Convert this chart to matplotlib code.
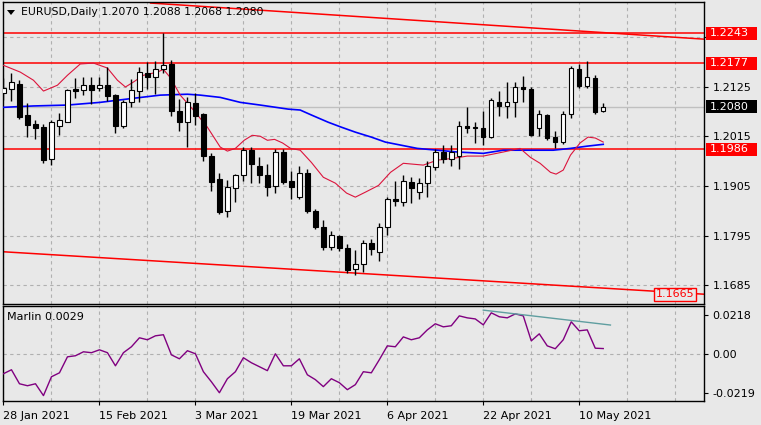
import matplotlib
matplotlib.use('Agg')
import matplotlib.pyplot as plt
import matplotlib.transforms as mtransforms
from matplotlib.patches import Rectangle, Polygon

# candles, one per trading day starting 28 Jan 2021 (index 0)
opens = [1.2110, 1.2120, 1.2130, 1.2062, 1.2042, 1.2035, 1.1964, 1.2037, 1.2047, 1.2119,
         1.2117, 1.2128, 1.2121, 1.2128, 1.2106, 1.2037, 1.2090, 1.2115, 1.2155, 1.2147,
         1.2163, 1.2175, 1.2070, 1.2046, 1.2088, 1.2064, 1.1971, 1.1920, 1.1849, 1.1900,
         1.1928, 1.1984, 1.1949, 1.1929, 1.1904, 1.1980, 1.1915, 1.1880, 1.1933, 1.1849,
         1.1813, 1.1769, 1.1793, 1.1767, 1.1720, 1.1731, 1.1778, 1.1758, 1.1813, 1.1875,
         1.1870, 1.1913, 1.1891, 1.1911, 1.1946, 1.1980, 1.1965, 1.1972, 1.2037, 1.2035,
         1.2033, 1.2013, 1.2090, 1.2082, 1.2090, 1.2124, 1.2120, 1.2033, 1.2062, 1.2013,
         1.2003, 1.2064, 1.2163, 1.2126, 1.2145, 1.2070]
highs = [1.2144, 1.2155, 1.2139, 1.2088, 1.2050, 1.2042, 1.2050, 1.2066, 1.2119, 1.2144,
         1.2146, 1.2146, 1.2146, 1.2168, 1.2108, 1.2095, 1.2141, 1.2168, 1.2179, 1.2181,
         1.2243, 1.2183, 1.2097, 1.2101, 1.2110, 1.2066, 1.1977, 1.1933, 1.1918, 1.1931,
         1.1992, 1.1991, 1.1968, 1.1953, 1.1986, 1.1986, 1.1937, 1.1949, 1.1942, 1.1853,
         1.1829, 1.1804, 1.1796, 1.1776, 1.1762, 1.1785, 1.1787, 1.1822, 1.1880, 1.1915,
         1.1929, 1.1924, 1.1922, 1.1960, 1.1987, 1.1995, 1.1995, 1.2048, 1.2079, 1.2046,
         1.2070, 1.2099, 1.2116, 1.2135, 1.2135, 1.2148, 1.2124, 1.2073, 1.2064, 1.2026,
         1.2070, 1.2170, 1.2175, 1.2181, 1.2150, 1.2088]
lows = [1.2095, 1.2094, 1.2054, 1.2013, 1.2008, 1.1955, 1.1951, 1.2017, 1.2046, 1.2099,
        1.2106, 1.2086, 1.2115, 1.2093, 1.2022, 1.2033, 1.2079, 1.2090, 1.2119, 1.2108,
        1.2155, 1.2059, 1.2026, 1.1991, 1.2039, 1.1960, 1.1893, 1.1842, 1.1836, 1.1869,
        1.1915, 1.1911, 1.1911, 1.1882, 1.1889, 1.1909, 1.1875, 1.1875, 1.1844, 1.1809,
        1.1762, 1.1762, 1.1760, 1.1711, 1.1707, 1.1714, 1.1751, 1.1738, 1.1796, 1.1860,
        1.1860, 1.1867, 1.1875, 1.1880, 1.1940, 1.1955, 1.1949, 1.1942, 1.2022, 1.2000,
        1.1995, 1.2011, 1.2059, 1.2055, 1.2057, 1.2090, 1.2015, 1.2015, 1.2006, 1.1988,
        1.1997, 1.2055, 1.2121, 1.2121, 1.2064, 1.2068]
closes = [1.2121, 1.2135, 1.2057, 1.2040, 1.2034, 1.1962, 1.2046, 1.2050, 1.2117, 1.2115,
          1.2129, 1.2117, 1.2128, 1.2104, 1.2037, 1.2090, 1.2117, 1.2157, 1.2146, 1.2163,
          1.2172, 1.2070, 1.2046, 1.2090, 1.2059, 1.1971, 1.1913, 1.1847, 1.1902, 1.1928,
          1.1984, 1.1953, 1.1929, 1.1902, 1.1980, 1.1913, 1.1902, 1.1933, 1.1849, 1.1813,
          1.1769, 1.1796, 1.1767, 1.1718, 1.1731, 1.1778, 1.1765, 1.1813, 1.1875, 1.1871,
          1.1915, 1.1900, 1.1911, 1.1949, 1.1980, 1.1965, 1.1980, 1.2037, 1.2033, 1.2034,
          1.2013, 1.2095, 1.2082, 1.2090, 1.2124, 1.2119, 1.2017, 1.2064, 1.2011, 1.2002,
          1.2064, 1.2166, 1.2126, 1.2146, 1.2068, 1.2080]

# fast moving average (crimson)
fast_x = [0, 2.1, 3.75, 5, 6.75, 8, 9.6, 11.25, 13, 14.25, 15.25, 16.25, 17.5, 19.25, 20,
          20.9, 22.1, 23.75, 25.5, 27.1, 28, 29, 30.1, 31.1, 32.1, 33, 33.9, 34.9, 35.9,
          37.1, 38.5, 40, 41.5, 42.9, 44, 45.25, 46.9, 48.4, 50, 52.5, 54.25, 56.25, 58,
          60, 62.5, 64.6, 65.9, 67.1, 68.4, 69.1, 70, 70.9, 72.1, 73.1, 74, 75]
fast_y = [1.2172, 1.2157, 1.2139, 1.2115, 1.2128, 1.2150, 1.2175, 1.2177, 1.2166, 1.2139,
          1.2124, 1.2135, 1.2150, 1.2157, 1.2163, 1.2144, 1.2106, 1.2073, 1.2035, 1.1991,
          1.1982, 1.1988, 1.2006, 1.2017, 1.2015, 1.2006, 1.2008, 1.2000, 1.1988, 1.1984,
          1.1957, 1.1924, 1.1911, 1.1889, 1.1880, 1.1891, 1.1906, 1.1935, 1.1955, 1.1951,
          1.1962, 1.1966, 1.1971, 1.1971, 1.1980, 1.1988, 1.1968, 1.1955, 1.1935, 1.1931,
          1.1940, 1.1973, 1.2000, 1.2013, 1.2011, 1.2002]

# slow moving average (blue)
slow_x = [0, 3.75, 8, 12.1, 16.25, 19.6, 23, 24.6, 27.1, 29.6, 32.1, 35.6, 37.1, 38.5,
          40.6, 42.25, 44, 46, 47.75, 51.75, 54.25, 56.75, 60, 62.5, 68.75, 70.9, 73, 75]
slow_y = [1.2079, 1.2082, 1.2084, 1.2090, 1.2099, 1.2106, 1.2108, 1.2106, 1.2101, 1.2090,
          1.2084, 1.2075, 1.2073, 1.2062, 1.2046, 1.2035, 1.2024, 1.2013, 1.2002, 1.1988,
          1.1984, 1.1980, 1.1977, 1.1984, 1.1984, 1.1988, 1.1993, 1.1997]

# Marlin oscillator
marlin = [-0.0111, -0.0089, -0.0167, -0.0178, -0.0167, -0.0233, -0.0128, -0.0106, -0.0017, -0.0011,
          0.0011, 0.0006, 0.0022, 0.0006, -0.0067, 0.0006, 0.0039, 0.0089, 0.0078, 0.0100,
          0.0106, -0.0006, -0.0028, 0.0017, 0.0000, -0.0100, -0.0156, -0.0217, -0.0139, -0.0100,
          -0.0022, -0.0050, -0.0072, -0.0094, 0.0000, -0.0067, -0.0067, -0.0028, -0.0117, -0.0144,
          -0.0183, -0.0139, -0.0161, -0.0200, -0.0172, -0.0100, -0.0106, -0.0033, 0.0044, 0.0039,
          0.0094, 0.0078, 0.0089, 0.0133, 0.0167, 0.0150, 0.0156, 0.0211, 0.0200, 0.0194,
          0.0161, 0.0228, 0.0206, 0.0200, 0.0222, 0.0211, 0.0072, 0.0111, 0.0044, 0.0028,
          0.0078, 0.0178, 0.0128, 0.0133, 0.0031, 0.0029]

# levels and trend lines
levels = [1.2243, 1.2177, 1.1986]
upper_trend = [(18.4, 1.2310), (87.6, 1.2230)]
lower_trend = [(0, 1.1759), (87.6, 1.1665)]
marlin_trend = [(60, 0.0243), (75.9, 0.0160)]

price_ticks = [1.2235, 1.2125, 1.2015, 1.1905, 1.1795, 1.1685]
# top label sits under the 1.2243 tag, so it stays blank
price_tick_labels = ['', '1.2125', '1.2015', '1.1905', '1.1795', '1.1685']
marlin_ticks = [0.0218, 0.0, -0.0219]
marlin_tick_labels = ['0.0218', '0.00', '-0.0219']
date_pos = [0, 12, 24, 36, 48, 60, 72]
date_labels = ['28 Jan 2021', '15 Feb 2021', '3 Mar 2021', '19 Mar 2021',
               '6 Apr 2021', '22 Apr 2021', '10 May 2021']

BG = '#e8e8e8'
GRID = '#b0b0b0'
W, H = 761, 425


def fx(px):
    return px / W


def fy(py):
    return 1 - py / H


def main():
    fig = plt.figure(figsize=(W / 100, H / 100), dpi=100)
    fig.patch.set_facecolor(BG)

    ax = fig.add_axes([fx(3), fy(304), fx(704) - fx(3), fy(2) - fy(304)])
    axm = fig.add_axes([fx(3), fy(401), fx(704) - fx(3), fy(306) - fy(401)])

    for a in (ax, axm):
        a.set_facecolor(BG)
        a.set_xlim(-0.06, 87.6)
        for s in a.spines.values():
            s.set_color('black')
            s.set_linewidth(1)
        for v in range(0, 88, 6):
            a.axvline(v, color=GRID, lw=0.8, ls=(0, (3, 3)), zorder=0)
        a.yaxis.tick_right()
        a.tick_params(axis='y', direction='out', length=3, labelsize=8, pad=3)

    ax.set_ylim(1.16433, 1.23123)
    axm.set_ylim(-0.0263, 0.0266)

    # price grid
    for p in price_ticks:
        ax.axhline(p, color=GRID, lw=0.8, ls=(0, (3, 3)), zorder=0)
    ax.set_yticks(price_ticks)
    ax.set_yticklabels(price_tick_labels)
    ax.set_xticks([])

    # current price line
    ax.axhline(closes[-1], color='#c0c0c0', lw=1, zorder=1)

    # levels and trend lines
    for lv in levels:
        ax.axhline(lv, color='#ff0000', lw=1.1, zorder=2)
    ax.plot([upper_trend[0][0], upper_trend[1][0]], [upper_trend[0][1], upper_trend[1][1]],
            color='#ff0000', lw=1.1, zorder=2)
    ax.plot([lower_trend[0][0], lower_trend[1][0]], [lower_trend[0][1], lower_trend[1][1]],
            color='#ff0000', lw=1.1, zorder=2)

    # moving averages
    ax.plot(slow_x, slow_y, color='#0000ff', lw=1.2, zorder=3)
    ax.plot(fast_x, fast_y, color='#dc143c', lw=0.8, zorder=3)

    # candles
    idx = list(range(len(opens)))
    ax.vlines(idx, lows, highs, color='black', lw=1, zorder=4)
    for i in idx:
        o, c = opens[i], closes[i]
        bottom = min(o, c)
        height = max(abs(c - o), 0.00012)
        face = 'white' if c >= o else 'black'
        ax.bar(i, height, bottom=bottom, width=0.55, color=face,
               edgecolor='black', linewidth=0.8, zorder=5)

    # price labels on the right scale
    tr = mtransforms.blended_transform_factory(fig.transFigure, ax.transData)
    hbox = 13 / 4514
    tags = [(1.2243, '#ff0000', 'white'), (1.2177, '#ff0000', 'white'),
            (closes[-1], 'black', 'white'), (1.1986, '#ff0000', 'white')]
    for p, bgc, fgc in tags:
        r = Rectangle((fx(706), p - hbox / 2), fx(757) - fx(706), hbox, transform=tr,
                      facecolor=bgc, edgecolor='none', clip_on=False, zorder=10)
        fig.add_artist(r)
        fig.text(fx(710), p, '{:.4f}'.format(p), transform=tr, color=fgc, fontsize=8,
                 va='center', ha='left', zorder=11)

    # price tag at the end of lower trend line
    ax.add_patch(Rectangle((81.4, 1.1665 - hbox / 2), 5.2, hbox, facecolor=BG,
                           edgecolor='#ff0000', lw=1, zorder=6, clip_on=False))
    ax.text(84.0, 1.1665, '1.1665', color='#ff0000', fontsize=8, ha='center',
            va='center', zorder=7)

    # header
    fig.add_artist(Polygon([[fx(7), fy(10)], [fx(15), fy(10)], [fx(11), fy(15)]],
                           closed=True, facecolor='black', edgecolor='none',
                           transform=fig.transFigure))
    fig.text(fx(21), fy(12), 'EURUSD,Daily 1.2070 1.2088 1.2068 1.2080',
             fontsize=7.8, va='center', ha='left')

    # Marlin panel
    axm.axhline(0, color=GRID, lw=0.8, ls=(0, (3, 3)), zorder=0)
    axm.plot(idx, marlin, color='#800080', lw=1, zorder=3)
    axm.plot([marlin_trend[0][0], marlin_trend[1][0]], [marlin_trend[0][1], marlin_trend[1][1]],
             color='#5f9ea0', lw=1, zorder=3)
    axm.set_yticks(marlin_ticks)
    axm.set_yticklabels(marlin_tick_labels)
    axm.text(0.006, 0.88, 'Marlin 0.0029', transform=axm.transAxes, fontsize=8,
             va='center', ha='left')

    axm.set_xticks(date_pos)
    axm.set_xticklabels(date_labels, ha='left')
    axm.tick_params(axis='x', direction='out', length=3, labelsize=8, pad=4)

    fig.savefig('out.png', dpi=100, facecolor=BG)


if __name__ == '__main__':
    main()
